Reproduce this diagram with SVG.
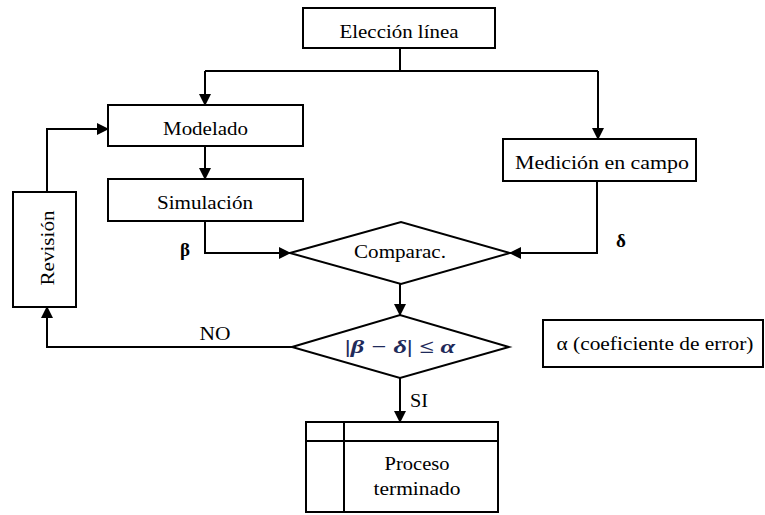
<svg xmlns="http://www.w3.org/2000/svg" width="765" height="515" viewBox="0 0 765 515">
<style>
.box{fill:#fff;stroke:#000;stroke-width:2}
.ln{fill:none;stroke:#000;stroke-width:2}
text{font-family:'Liberation Serif','Times New Roman',serif;font-size:19px;fill:#000;text-anchor:middle}
.b{font-weight:bold}
</style>
<defs>
<marker id="ah" markerWidth="12" markerHeight="12" refX="11" refY="6" orient="auto" markerUnits="userSpaceOnUse">
<path d="M0,0 L12,6 L0,12 Z" fill="#000"/>
</marker>
</defs>
<g id="connectors">
<path class="ln" d="M400,48 V71"/>
<path class="ln" d="M205,71 H598"/>
<path class="ln" d="M205,71 V105" marker-end="url(#ah)"/>
<path class="ln" d="M598,71 V139" marker-end="url(#ah)"/>
<path class="ln" d="M205,146 V179" marker-end="url(#ah)"/>
<path class="ln" d="M205,221 V253 H290" marker-end="url(#ah)"/>
<path class="ln" d="M597,181 V253 H510" marker-end="url(#ah)"/>
<path class="ln" d="M400,284 V315" marker-end="url(#ah)"/>
<path class="ln" d="M292,347 H47 V307" marker-end="url(#ah)"/>
<path class="ln" d="M47,192 V129 H108" marker-end="url(#ah)"/>
<path class="ln" d="M400,378 V422" marker-end="url(#ah)"/>
<text class="b" x="185" y="256">β</text>
<text class="b" x="621" y="247">δ</text>
<text x="215" y="340" textLength="31" lengthAdjust="spacingAndGlyphs">NO</text>
<text x="419" y="407" textLength="18" lengthAdjust="spacingAndGlyphs">SI</text>
</g>
<g id="eleccion">
<rect class="box" x="303" y="8" width="192" height="40"/>
<text x="399" y="38" textLength="119" lengthAdjust="spacingAndGlyphs">Elección línea</text>
</g>
<g id="modelado">
<rect class="box" x="108" y="105" width="195" height="41"/>
<text x="205.5" y="135" textLength="85" lengthAdjust="spacingAndGlyphs">Modelado</text>
</g>
<g id="simulacion">
<rect class="box" x="108" y="179" width="195" height="42"/>
<text x="205" y="209" textLength="96" lengthAdjust="spacingAndGlyphs">Simulación</text>
</g>
<g id="medicion">
<rect class="box" x="503" y="139" width="193" height="42"/>
<text x="602" y="169" textLength="174" lengthAdjust="spacingAndGlyphs">Medición en campo</text>
</g>
<g id="revision">
<rect class="box" x="13" y="192" width="63" height="115"/>
<text transform="translate(54,248) rotate(-90)" textLength="75" lengthAdjust="spacingAndGlyphs">Revisión</text>
</g>
<g id="comparac">
<polygon class="box" points="290,253 401,222 510,253 401,284"/>
<text x="400" y="258" textLength="92" lengthAdjust="spacingAndGlyphs">Comparac.</text>
</g>
<g id="condicion">
<polygon class="box" points="292,347 400,315 509,347 400,378"/>
<text class="b" x="400" y="353" textLength="110" lengthAdjust="spacingAndGlyphs" style="font-style:italic;fill:#1f2a5a">|β − δ| ≤ α</text>
</g>
<g id="proceso">
<rect class="box" x="306" y="422" width="192" height="90"/>
<path class="ln" d="M306,441 H498 M344,422 V512"/>
<text x="417" y="470" textLength="65" lengthAdjust="spacingAndGlyphs">Proceso</text>
<text x="417" y="495" textLength="87" lengthAdjust="spacingAndGlyphs">terminado</text>
</g>
<g id="alfa">
<rect class="box" x="543" y="320" width="220" height="47"/>
<text x="655" y="350" textLength="197" lengthAdjust="spacingAndGlyphs">α (coeficiente de error)</text>
</g>
</svg>
